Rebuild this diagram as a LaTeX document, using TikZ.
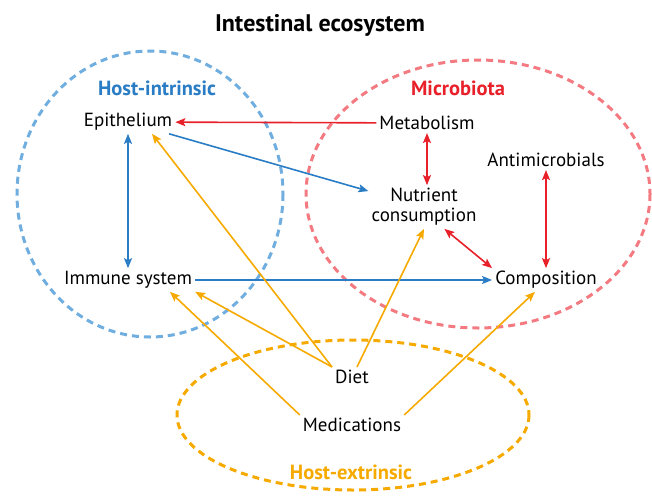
\documentclass[tikz,border=0pt]{standalone}
\usepackage{fontspec}
\setmainfont{PT Sans}
\usetikzlibrary{arrows.meta}

\definecolor{hostblue}{HTML}{2A7DC4}
\definecolor{hostbluelt}{HTML}{6FAEDF}
\definecolor{microred}{HTML}{E8202A}
\definecolor{microredlt}{HTML}{F27A80}
\definecolor{extorange}{HTML}{F6AA00}

\begin{document}
\begin{tikzpicture}[x=1pt, y=-1pt,
    every node/.style={font=\fontsize{19}{20}\selectfont, inner sep=3pt},
    group/.style={font=\bfseries\fontsize{20.5}{22}\selectfont},
    ring/.style={dash pattern=on 7pt off 5pt, line width=3pt},
    link/.style={line width=1.6pt, -{Stealth[length=10pt, width=8pt, inset=2pt]}},
    twoway/.style={line width=1.6pt, {Stealth[length=10pt, width=8pt, inset=2pt]}-{Stealth[length=10pt, width=8pt, inset=2pt]}}]
      \useasboundingbox (0,0) rectangle (652,495);
      % the three groups
      \draw[ring, hostbluelt] (150,194) ellipse [x radius=133, y radius=143];
      \draw[ring, microredlt] (478,194) ellipse [x radius=172, y radius=134];
      \draw[ring, extorange] (353,415) ellipse [x radius=176, y radius=75];
      \node[font=\bfseries\fontsize{24}{26}\selectfont] (title) at (320,25) {Intestinal ecosystem};
      \node[group, text=hostblue] (hostin) at (157,88) {Host-intrinsic};
      \node[group, text=microred] (microb) at (458,88) {Microbiota};
      \node[group, text=extorange] (hostex) at (351,472) {Host-extrinsic};
      % factors
      \node (epith) at (128,122) {Epithelium};
      \node (metab) at (427,123) {Metabolism};
      \node (anti) at (546,160) {Antimicrobials};
      \node[align=center] (nutr) at (424,207) {Nutrient\\consumption};
      \node (immune) at (128,280) {Immune system};
      \node (comp) at (546,280) {Composition};
      \node (diet) at (352,377) {Diet};
      \node (medic) at (352,425) {Medications};
      % host-intrinsic links
      \draw[link, hostblue] (epith) -- (nutr);
      \draw[twoway, hostblue] (epith) -- (immune);
      \draw[link, hostblue] (immune) -- (comp);
      % microbiota links
      \draw[link, microred] (metab) -- (epith);
      \draw[twoway, microred] (metab) -- (metab |- nutr.north);
      \draw[twoway, microred] (nutr.-47) -- (comp.north west);
      \draw[twoway, microred] (anti) -- (comp);
      % host-extrinsic links
      \draw[link, extorange] (diet.north west) -- ([xshift=24pt]epith.south);
      \draw[link, extorange] (diet.north west) -- (immune.south east);
      \draw[link, extorange] ([xshift=5pt]diet.north) -- (nutr.south);
      \draw[link, extorange] (medic.north west) -- ([xshift=42pt]immune.south);
      \draw[link, extorange] (medic.north east) -- ([xshift=-11pt]comp.south);
\end{tikzpicture}
\end{document}
